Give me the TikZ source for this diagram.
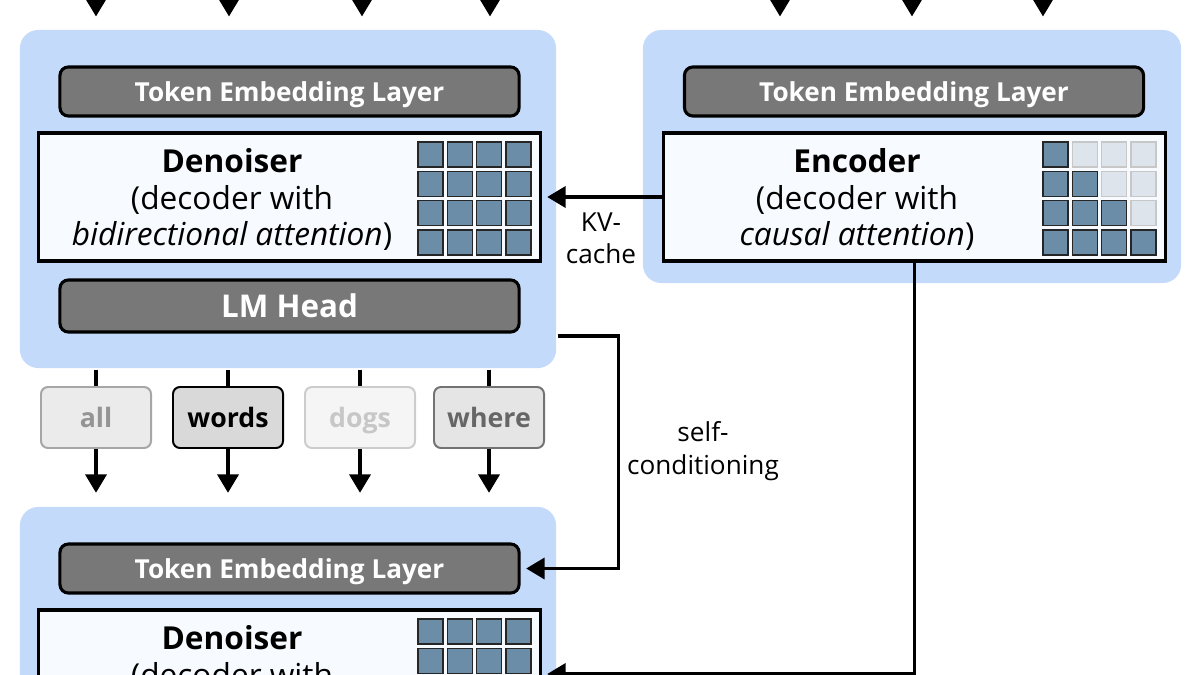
\documentclass[tikz,border=0pt]{standalone}
\usepackage{fontspec}
\setmainfont{Open Sans}
\usetikzlibrary{arrows.meta,calc,positioning}
\definecolor{BlockBlue}{HTML}{C4DAFB}
\definecolor{LayerGray}{HTML}{787878}
\definecolor{CellBlue}{HTML}{6B8DA8}
\definecolor{CellOff}{HTML}{DEE4EB}
\definecolor{BoxWhite}{HTML}{F7FBFF}

\begin{document}
\begin{tikzpicture}[x=0.025cm,y=-0.025cm,>={Triangle[length=13pt,width=15pt]},line width=2.2pt,
  block/.style={fill=BlockBlue,rounded corners=13pt,inner sep=0pt},
  layer/.style={draw=black,fill=LayerGray,rounded corners=6pt,text=white,inner sep=0pt,text depth=0pt,
    minimum width=11.475cm,minimum height=1.225cm,font=\bfseries\fontsize{18.6}{22}\selectfont},
  model/.style={draw=black,fill=BoxWhite,inner sep=0pt,minimum width=12.525cm,minimum height=3.2cm},
  modeltext/.style={align=center,font=\fontsize{22.5}{26}\selectfont},
  cell/.style={draw=black!85,line width=1pt,fill=CellBlue,minimum size=0.625cm,inner sep=0pt},
  celloff/.style={draw=black!22,line width=1pt,fill=CellOff,minimum size=0.625cm,inner sep=0pt},
  word/.style={rounded corners=5pt,line width=1.4pt,inner sep=0pt,minimum width=2.75cm,
    minimum height=1.525cm,text height=14pt,text depth=0pt,font=\bfseries\fontsize{19}{22}\selectfont},
  note/.style={align=center,font=\fontsize{18.6}{23}\selectfont}]
  \useasboundingbox (0,0) rectangle (1200,675);
  \clip (0,0) rectangle (1200,675);

  % blocks
  \node[block,minimum width=13.4cm,minimum height=8.45cm] (blk1) at (288,199) {};
  \node[block,minimum width=13.45cm,minimum height=6.325cm] (blk2) at (912,156.5) {};
  \node[block,minimum width=13.4cm,minimum height=8.45cm] (blk3) at (288,676) {};

  % denoiser, first step
  \node[layer] (tok1) at (289.5,91.5) {Token Embedding Layer};
  \node[model] (den1) at (289.5,197) {};
  \node[modeltext] (den1txt) at (232,199.5) {\textbf{Denoiser}\\(decoder with\\\textit{bidirectional attention})};
  \foreach \i in {0,...,3}
    \foreach \j in {0,...,3}
      \node[cell] at (430.5+29.3*\i,154.5+29.3*\j) {};
  \node[layer,minimum height=1.3cm,font=\bfseries\fontsize{22.3}{26}\selectfont] (lm1) at (289.5,306) {LM Head};

  % encoder
  \node[layer] (tok2) at (914,91.5) {Token Embedding Layer};
  \node[model] (enc) at (914.5,197) {};
  \node[modeltext] (enctxt) at (857,199.5) {\textbf{Encoder}\\(decoder with\\\textit{causal attention})};
  \foreach \i in {0,...,3}
    \foreach \j in {0,...,3} {
      \ifnum\i>\j
        \node[celloff] at (1055.5+29.3*\i,154.5+29.3*\j) {};
      \else
        \node[cell] at (1055.5+29.3*\i,154.5+29.3*\j) {};
      \fi
    }

  % denoiser, next step
  \node[layer] (tok3) at (289.5,568.5) {Token Embedding Layer};
  \node[model] (den3) at (289.5,674) {};
  \node[modeltext] (den3txt) at (232,676.5) {\textbf{Denoiser}\\(decoder with\\\textit{bidirectional attention})};
  \foreach \i in {0,...,3}
    \foreach \j in {0,...,3}
      \node[cell] at (430.5+29.3*\i,631.5+29.3*\j) {};

  % predicted tokens
  \node[word,draw=black!35,fill=black!8,text=black!42] (w1) at (96,417.5) {all};
  \node[word,draw=black,fill=black!15,text=black] (w2) at (228,417.5) {words};
  \node[word,draw=black!20,fill=black!4,text=black!22] (w3) at (360,417.5) {dogs};
  \node[word,draw=black!55,fill=black!10,text=black!60] (w4) at (489,417.5) {where};

  % inputs
  \foreach \x/\n in {96/a,229/b,362/c,490/d,780/e,912/f,1043/g}
    \coordinate (in\n) at (\x,-30);
  \foreach \n in {a,b,c,d}
    \draw[->,shorten >=8.5pt] (in\n) -- (in\n |- blk1.north);
  \foreach \n in {e,f,g}
    \draw[->,shorten >=8.5pt] (in\n) -- (in\n |- blk2.north);

  % outputs to next step
  \foreach \n in {1,...,4} {
    \draw (w\n.north |- blk1.south) -- (w\n.north);
    \draw[->,shorten >=9pt] (w\n.south) -- (w\n.south |- blk3.north);
  }

  % kv-cache
  \draw[->,shorten >=4pt] (enc.west) -- (den1.east);
  \node[note] (kv) at (601,238) {KV-\\cache};
  \draw[->,shorten >=4pt] (enc.south) |- (den3.east);

  % self-conditioning
  \draw[->,shorten >=4pt] ($(blk1.east)+(0,137)$) -- ++(61,0) |- (tok3.east);
  \node[note] (sc) at (703,451) {self-\\conditioning};
\end{tikzpicture}
\end{document}
